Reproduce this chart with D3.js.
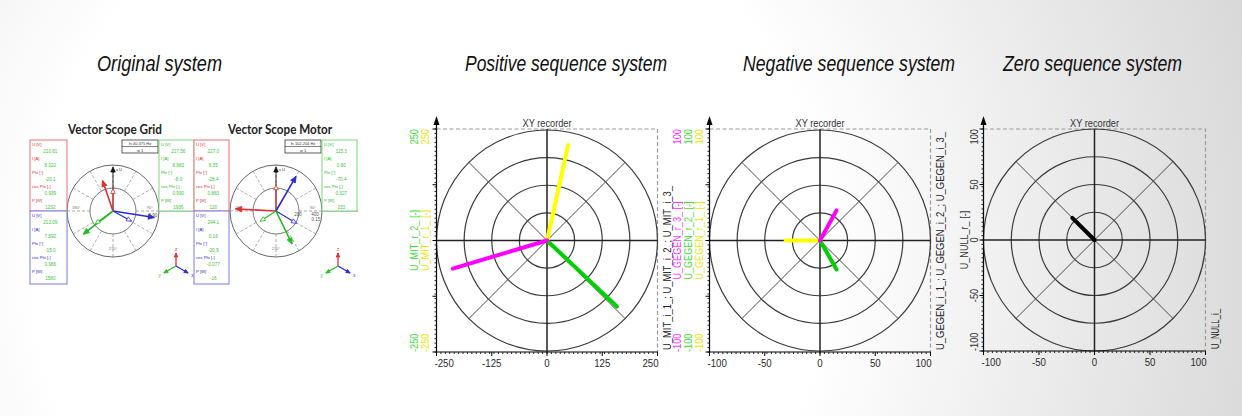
<!DOCTYPE html>
<html><head><meta charset="utf-8">
<script src="https://cdn.jsdelivr.net/npm/d3@7"></script>
<style>
html,body{margin:0;padding:0;overflow:hidden;background:#fff;}
svg{display:block;}
</style></head><body>
<script>
// ================= DATA =================
const panelTitles = ["Original system", "Positive sequence system", "Negative sequence system", "Zero sequence system"];

// Positive sequence XY recorder
const posTicks = [-250, -125, 0, 125, 250];
const posVectorX = [48, 158, -213];     // U_MIT_1, U_MIT_2, U_MIT_3
const posVectorY = [214, -148, -63];
const posLeftNames = ["U_MIT_r_2_ [-]", "U_MIT_r_1_ [-]"];
const posLeftTickLabels = ["250", "-250"];
const posRightName = "U_MIT_i_1_; U_MIT_i_2_; U_MIT_i_3_";

// Negative sequence XY recorder
const negTicks = [-100, -50, 0, 50, 100];
const negVectorX = [-31, 15, 15];       // U_GEGEN_1, U_GEGEN_2, U_GEGEN_3
const negVectorY = [0, -26, 27];
const negLeftNames = ["U_GEGEN_r_3_ [-]", "U_GEGEN_r_2_ [-]", "U_GEGEN_r_1_ [-]"];
const negLeftTickLabels = ["100", "-100"];
const negRightName = "U_GEGEN_i_1_; U_GEGEN_i_2_; U_GEGEN_i_3_";

// Zero sequence XY recorder
const zeroTicks = [-100, -50, 0, 50, 100];
const zeroVectorX = [-20];
const zeroVectorY = [20];
const zeroLeftName = "U_NULL_r_ [-]";
const zeroRightName = "U_NULL_i_";

// Original system: vector scopes (angle in degrees, length relative to scope radius)
const scopeTitles = ["Vector Scope Grid", "Vector Scope Motor"];
const gridArrowAngle = [109, 90, -9, -29, 218, 216];
const gridArrowLength = [0.70, 0.49, 0.91, 0.46, 0.82, 0.48];
const motorArrowAngle = [177, 90, 60, -31, -64, 213];
const motorArrowLength = [0.88, 0.57, 0.87, 0.52, 0.80, 0.41];
const arrowPhase = ["L1", "L1", "L3", "L3", "L2", "L2"];
const arrowKind = ["U", "I", "U", "I", "U", "I"];
const boxLabels = ["U [V]", "I [A]", "Phi [°]", "cos Phi [-]", "P [W]"];
const gridL1Values = ["210.61", "8.022", "-20.1", "0.939", "1232"];
const gridL2Values = ["217.56", "8.983", "-8.0", "0.990", "1936"];
const gridL3Values = ["213.09", "7.592", "-15.0", "0.966", "1580"];
const motorL1Values = ["227.0", "8.35", "-28.4", "0.883", "120"];
const motorL2Values = ["115.3", "0.90", "-70.4", "0.327", "233"];
const motorL3Values = ["244.1", "0.16", "-20.9", "-0.077", "-16"];
const scopeFreq = ["fs 40,375 Hz", "fs 102,204 Hz"];
const scopeAngleLabels = ["90°", "180°", "270°"];

// ================= DRAW =================
const W = 1242, H = 416;
const svg = d3.select("body").append("svg").attr("width", W).attr("height", H);
const defs = svg.append("defs");
const rg = defs.append("radialGradient").attr("id", "bg").attr("gradientUnits", "userSpaceOnUse")
  .attr("cx", 430).attr("cy", 260).attr("r", 880);
rg.append("stop").attr("offset", 0.45).attr("stop-color", "#ffffff");
rg.append("stop").attr("offset", 1).attr("stop-color", "#d6d6d6");
svg.append("rect").attr("width", W).attr("height", H).attr("fill", "url(#bg)");

const C = {
  yellow: "#ffff00", yellowText: "#e8e800",
  green: "#00d000", greenText: "#3ddc3d",
  magenta: "#ff00ff", magentaText: "#ff33ff",
  black: "#000"
};
const FONT = "'Liberation Sans', Arial, sans-serif";
const SX = 0.84; // horizontal condensing of the recorder's labels

function ctext(g, x, y, rot, txt, size, fill, anchor) {
  return g.append("text")
    .attr("transform", `translate(${x},${y}) rotate(${rot}) scale(${SX},1)`)
    .attr("text-anchor", anchor || "start")
    .attr("font-family", FONT).attr("font-size", size).attr("fill", fill)
    .text(txt);
}

// ---- titles ----
const titleX = [97, 465, 743, 1003];
const titleW = [125, 202, 212, 179];
svg.selectAll("text.ptitle").data(panelTitles).join("text")
  .attr("class", "ptitle")
  .attr("x", (d, i) => titleX[i]).attr("y", 71)
  .attr("font-family", FONT)
  .attr("font-style", "italic").attr("font-size", 22).attr("fill", "#111")
  .attr("textLength", (d, i) => titleW[i]).attr("lengthAdjust", "spacingAndGlyphs")
  .text(d => d);

// ---- XY recorder panels ----
function xyPanel(cfg) {
  const g = svg.append("g");
  const { x0, y0, w, h, max, ticks } = cfg;
  const xs = d3.scaleLinear().domain([-max, max]).range([x0, x0 + w]);
  const ys = d3.scaleLinear().domain([-max, max]).range([y0 + h, y0]);
  const cx = xs(0), cy = ys(0);
  const rpx = v => xs(v) - xs(0);

  g.append("path").attr("d", `M${x0},${y0}H${x0 + w}V${y0 + h}`)
    .attr("fill", "none").attr("stroke", "#9a9a9a").attr("stroke-width", 1.2).attr("stroke-dasharray", "4,2.5");

  const rings = [0.25, 0.5, 0.75, 1].map(f => f * max);
  g.selectAll("circle.ring").data(rings).join("circle")
    .attr("cx", cx).attr("cy", cy).attr("r", d => rpx(d))
    .attr("fill", "none").attr("stroke", "#3a3a3a").attr("stroke-width", 1.2);
  [45, 135].forEach(a => {
    const rad = a * Math.PI / 180, r = rpx(max);
    g.append("line")
      .attr("x1", cx + r * Math.cos(rad)).attr("y1", cy - r * Math.sin(rad))
      .attr("x2", cx - r * Math.cos(rad)).attr("y2", cy + r * Math.sin(rad))
      .attr("stroke", "#4a4a4a").attr("stroke-width", 1);
  });
  g.append("line").attr("x1", x0).attr("x2", x0 + w).attr("y1", cy).attr("y2", cy)
    .attr("stroke", "#222").attr("stroke-width", 1.5);
  g.append("line").attr("x1", cx).attr("x2", cx).attr("y1", y0).attr("y2", y0 + h)
    .attr("stroke", "#222").attr("stroke-width", 1.5);

  cfg.vx.forEach((vx, i) => {
    g.append("line").attr("x1", cx).attr("y1", cy)
      .attr("x2", xs(vx)).attr("y2", ys(cfg.vy[i]))
      .attr("stroke", cfg.colors[i]).attr("stroke-width", 4).attr("stroke-linecap", "round");
  });

  g.append("line").attr("x1", x0).attr("x2", x0).attr("y1", y0 + h + 1).attr("y2", y0 - 8)
    .attr("stroke", "#000").attr("stroke-width", 1.2);
  g.append("path").attr("d", `M${x0},${y0 - 13}L${x0 - 3},${y0 - 4}L${x0 + 3},${y0 - 4}Z`).attr("fill", "#000");
  const minor = d3.range(-max, max + 1e-9, max / 25);
  g.selectAll("line.ly").data(minor).join("line")
    .attr("x1", x0 - 2).attr("x2", x0).attr("y1", d => ys(d)).attr("y2", d => ys(d))
    .attr("stroke", "#222").attr("stroke-width", 1);
  g.selectAll("line.lyM").data(ticks).join("line")
    .attr("x1", x0 - 4).attr("x2", x0).attr("y1", d => ys(d)).attr("y2", d => ys(d))
    .attr("stroke", "#000").attr("stroke-width", 1);

  g.append("line").attr("x1", x0).attr("x2", x0 + w).attr("y1", y0 + h).attr("y2", y0 + h)
    .attr("stroke", "#000").attr("stroke-width", 1.2);
  g.selectAll("line.bx").data(minor).join("line")
    .attr("x1", d => xs(d)).attr("x2", d => xs(d)).attr("y1", y0 + h).attr("y2", y0 + h + 2)
    .attr("stroke", "#222").attr("stroke-width", 1);
  g.selectAll("line.bxM").data(ticks).join("line")
    .attr("x1", d => xs(d)).attr("x2", d => xs(d)).attr("y1", y0 + h).attr("y2", y0 + h + 4)
    .attr("stroke", "#000").attr("stroke-width", 1);
  ticks.forEach((d, i) => {
    const last = ticks.length - 1;
    const anchor = i === 0 ? "start" : i === last ? "end" : "middle";
    const x = i === 0 ? xs(d) - 2 : i === last ? xs(d) + 1 : xs(d);
    ctext(g, x, y0 + h + 15, 0, String(d), 11.5, "#2a2a2a", anchor);
  });

  ctext(g, cx, y0 - 2, 0, "XY recorder", 11, "#333", "middle");

  cfg.leftCols.forEach(col => {
    if (col.name) ctext(g, col.x, cy, -90, col.name, 10.8, col.color, "middle").attr("dy", "0.35em");
    if (col.tickVals) {
      col.tickVals.forEach((v, i) => {
        const anchor = i === 0 ? "start" : i === col.tickVals.length - 1 ? "end" : "middle";
        ctext(g, col.x, ys(v), -90, col.tickText[i], 11, col.color, anchor).attr("dy", "0.35em");
      });
    }
  });
  g.append("text").attr("transform", `translate(${cfg.rightX},${y0 + h - 2}) rotate(-90)`)
    .attr("text-anchor", "start").attr("dy", "0.35em")
    .attr("font-family", FONT).attr("font-size", 10.8).attr("fill", "#222")
    .attr("textLength", cfg.rightLen).attr("lengthAdjust", "spacingAndGlyphs")
    .text(cfg.rightName);
}

xyPanel({
  x0: 436.5, y0: 129, w: 221, h: 223, max: 250, ticks: posTicks,
  vx: posVectorX, vy: posVectorY, colors: [C.yellow, C.green, C.magenta],
  leftCols: [
    { x: 414, color: C.greenText, name: posLeftNames[0], tickVals: [-250, 250], tickText: [posLeftTickLabels[1], posLeftTickLabels[0]] },
    { x: 425, color: C.yellowText, name: posLeftNames[1], tickVals: [-250, 250], tickText: [posLeftTickLabels[1], posLeftTickLabels[0]] }
  ],
  rightX: 667, rightName: posRightName, rightLen: 164
});

xyPanel({
  x0: 709.5, y0: 129, w: 221, h: 223, max: 100, ticks: negTicks,
  vx: negVectorX, vy: negVectorY, colors: [C.yellow, C.green, C.magenta],
  leftCols: [
    { x: 677, color: C.magentaText, name: negLeftNames[0], tickVals: [-100, 100], tickText: [negLeftTickLabels[1], negLeftTickLabels[0]] },
    { x: 688, color: C.greenText, name: negLeftNames[1], tickVals: [-100, 100], tickText: [negLeftTickLabels[1], negLeftTickLabels[0]] },
    { x: 699, color: C.yellowText, name: negLeftNames[2], tickVals: [-100, 100], tickText: [negLeftTickLabels[1], negLeftTickLabels[0]] }
  ],
  rightX: 940, rightName: negRightName, rightLen: 218
});

xyPanel({
  x0: 983.5, y0: 129, w: 222, h: 222, max: 100, ticks: zeroTicks,
  vx: zeroVectorX, vy: zeroVectorY, colors: [C.black],
  leftCols: [
    { x: 964, color: "#333", name: zeroLeftName },
    { x: 974, color: "#333", tickVals: zeroTicks, tickText: zeroTicks.map(String) }
  ],
  rightX: 1215, rightName: zeroRightName, rightLen: 40
});

// ---- Original system (vector scopes) ----
const orig = svg.append("g");
const phaseColor = { L1: "#e03030", L2: "#22bb22", L3: "#2a2ad8" };
const boxBorder = { L1: "#e87070", L2: "#7ed87e", L3: "#7a7ae6" };
const valueColor = "#3cc43c";
const tiny = "'Liberation Sans', Arial, sans-serif";

function infoBox(x, y, w, h, phase, labelColor, values) {
  orig.append("rect").attr("x", x).attr("y", y).attr("width", w).attr("height", h)
    .attr("fill", "#fff").attr("stroke", boxBorder[phase]).attr("stroke-width", 1);
  boxLabels.forEach((lab, i) => {
    orig.append("text").attr("x", x + 2).attr("y", y + 5.5 + 14 * i)
      .attr("font-family", tiny).attr("font-size", 4.2).attr("fill", labelColor).text(lab);
    orig.append("text").attr("x", x + w * 0.55).attr("y", y + 12.5 + 14 * i).attr("text-anchor", "middle")
      .attr("font-family", tiny).attr("font-size", 4.6).attr("fill", valueColor).text(values[i]);
  });
}

function arrowHead(g, x, y, ang, color, filled, size) {
  const a = ang * Math.PI / 180;
  const bx = x - size * Math.cos(a), by = y + size * Math.sin(a);
  const px = Math.sin(a) * size * 0.45, py = Math.cos(a) * size * 0.45;
  g.append("path").attr("d", `M${x},${y}L${bx + px},${by + py}L${bx - px},${by - py}Z`)
    .attr("fill", filled ? color : "#fff").attr("stroke", color).attr("stroke-width", 0.8);
}

function scope(cx, cy, R, angles, lengths, freq, extraLabels) {
  const g = orig.append("g");
  g.append("circle").attr("cx", cx).attr("cy", cy).attr("r", R).attr("fill", "#fff")
    .attr("stroke", "#555").attr("stroke-width", 0.9);
  g.append("circle").attr("cx", cx).attr("cy", cy).attr("r", R * 0.5).attr("fill", "none")
    .attr("stroke", "#555").attr("stroke-width", 0.8);
  d3.range(0, 360, 30).forEach(a => {
    const r = a * Math.PI / 180;
    g.append("line")
      .attr("x1", cx + R * 0.5 * Math.cos(r)).attr("y1", cy - R * 0.5 * Math.sin(r))
      .attr("x2", cx + R * Math.cos(r)).attr("y2", cy - R * Math.sin(r))
      .attr("stroke", "#888").attr("stroke-width", 0.7).attr("stroke-dasharray", "3,2");
  });
  [[0, 0.8], [180, 0.8], [270, 0.85]].forEach((p, i) => {
    const ang = p[0] * Math.PI / 180;
    g.append("text").attr("x", cx + R * p[1] * Math.cos(ang)).attr("y", cy - R * p[1] * Math.sin(ang) + (i === 2 ? 0 : -2))
      .attr("text-anchor", "middle").attr("font-family", tiny).attr("font-size", 4).attr("fill", "#777")
      .text(scopeAngleLabels[i]);
  });
  g.append("line").attr("x1", cx).attr("x2", cx).attr("y1", cy).attr("y2", cy - R + 4)
    .attr("stroke", "#111").attr("stroke-width", 0.9);
  arrowHead(g, cx, cy - R + 2, 90, "#111", true, 5);
  g.append("text").attr("x", cx + 3).attr("y", cy - R + 6).attr("font-family", tiny).attr("font-size", 4).attr("fill", "#333").text("x  U");
  angles.forEach((ang, i) => {
    const r = ang * Math.PI / 180, L = lengths[i] * R;
    const tx = cx + L * Math.cos(r), ty = cy - L * Math.sin(r);
    const col = phaseColor[arrowPhase[i]];
    g.append("line").attr("x1", cx).attr("y1", cy).attr("x2", tx).attr("y2", ty)
      .attr("stroke", col).attr("stroke-width", arrowKind[i] === "U" ? 1.6 : 1.1);
    arrowHead(g, tx, ty, ang, col, arrowKind[i] === "U", arrowKind[i] === "U" ? 6 : 5);
  });
  const bx = cx + 9, by = 140;
  g.append("rect").attr("x", bx).attr("y", by).attr("width", 36).attr("height", 13)
    .attr("fill", "#fff").attr("stroke", "#333").attr("stroke-width", 0.8);
  g.append("line").attr("x1", bx).attr("x2", bx + 36).attr("y1", by + 6.5).attr("y2", by + 6.5)
    .attr("stroke", "#333").attr("stroke-width", 0.6);
  g.append("text").attr("x", bx + 18).attr("y", by + 5).attr("text-anchor", "middle")
    .attr("font-family", tiny).attr("font-size", 4).attr("fill", "#333").text(freq);
  g.append("text").attr("x", bx + 18).attr("y", by + 11.5).attr("text-anchor", "middle")
    .attr("font-family", tiny).attr("font-size", 4).attr("fill", "#333").text("w 1");
  (extraLabels || []).forEach(e => {
    g.append("text").attr("x", cx + e[0]).attr("y", cy + e[1]).attr("text-anchor", "middle")
      .attr("font-family", tiny).attr("font-size", 4.5).attr("fill", "#555").text(e[2]);
  });
}

function axisIcon(cx, cy) {
  const g = orig.append("g");
  const arms = [[90, 13, "#e03030", "z"], [-30, 14, "#2a2ad8", "x"], [210, 14, "#22bb22", "y"]];
  arms.forEach(a => {
    const r = a[0] * Math.PI / 180;
    const tx = cx + a[1] * Math.cos(r), ty = cy - a[1] * Math.sin(r);
    g.append("line").attr("x1", cx).attr("y1", cy).attr("x2", tx).attr("y2", ty)
      .attr("stroke", a[2]).attr("stroke-width", 1.3);
    arrowHead(g, tx, ty, a[0], a[2], true, 4);
    g.append("text").attr("x", cx + (a[1] + 5) * Math.cos(r)).attr("y", cy - (a[1] + 4) * Math.sin(r) + 1.5)
      .attr("text-anchor", "middle").attr("font-family", tiny).attr("font-size", 4.5).attr("fill", a[2]).text(a[3]);
  });
}

orig.append("line").attr("x1", 30).attr("x2", 196).attr("y1", 211).attr("y2", 211).attr("stroke", "#8a7a9a").attr("stroke-width", 1.2);
orig.append("line").attr("x1", 194).attr("x2", 358).attr("y1", 211).attr("y2", 211).attr("stroke", "#8a7a9a").attr("stroke-width", 1.2);

scope(113, 211, 46, gridArrowAngle, gridArrowLength, scopeFreq[0], [[40, 6, "0.90"]]);
scope(276, 211, 46, motorArrowAngle, motorArrowLength, scopeFreq[1], [[22, 5, "200"], [39, 5, "400"], [40, 10, "0.15"]]);

infoBox(30, 140, 37, 71, "L1", "#e03030", gridL1Values);
infoBox(30, 211, 37, 73, "L3", "#2a2ad8", gridL3Values);
infoBox(159, 140, 35, 71, "L2", "#22bb22", gridL2Values);
infoBox(194, 140, 35, 71, "L1", "#e03030", motorL1Values);
infoBox(194, 211, 35, 73, "L3", "#2a2ad8", motorL3Values);
infoBox(322, 140, 35, 71, "L2", "#22bb22", motorL2Values);

axisIcon(176, 266);
axisIcon(338, 266);

const stW = [94, 104];
orig.selectAll("text.st").data(scopeTitles).join("text")
  .attr("x", (d, i) => [68, 228][i]).attr("y", 134)
  .attr("font-family", "Lato, 'Liberation Sans', sans-serif").attr("font-weight", "bold")
  .attr("font-size", 12.5).attr("fill", "#222")
  .attr("textLength", (d, i) => stW[i]).attr("lengthAdjust", "spacingAndGlyphs")
  .text(d => d);
</script>
</body></html>
